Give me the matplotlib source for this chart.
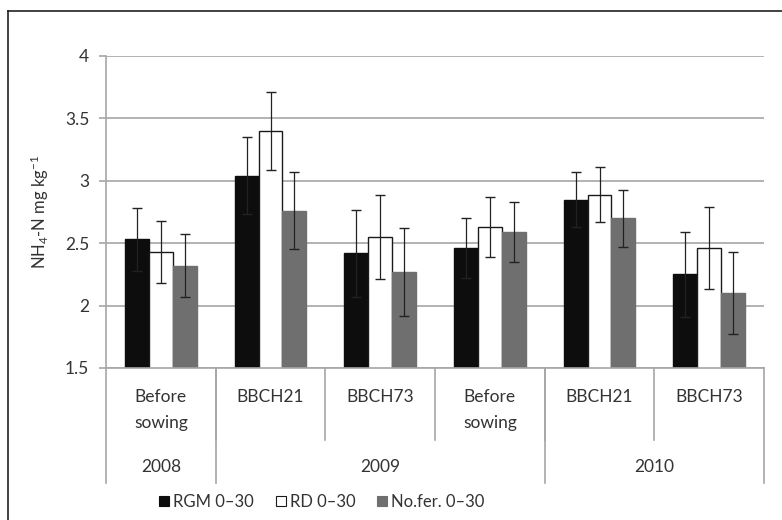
import numpy as np
import matplotlib
matplotlib.use("Agg")
import matplotlib.pyplot as plt
from matplotlib.patches import Patch
from matplotlib.lines import Line2D

plt.rcParams['font.family'] = ['Lato', 'DejaVu Sans']
plt.rcParams['mathtext.fontset'] = 'custom'
plt.rcParams['mathtext.rm'] = 'Lato'
plt.rcParams['mathtext.it'] = 'Lato'

# data
stages = ["Before\nsowing", "BBCH21", "BBCH73", "Before\nsowing", "BBCH21", "BBCH73"]
years = ["2008", "2009", "2010"]
year_span = [(0, 1), (1, 4), (4, 6)]   # category index ranges per year
series = ["RGM 0\u201330", "RD 0\u201330", "No.fer. 0\u201330"]
rgm = [2.53, 3.04, 2.42, 2.46, 2.85, 2.25]
rd = [2.43, 3.40, 2.55, 2.63, 2.89, 2.46]
nofer = [2.32, 2.76, 2.27, 2.59, 2.70, 2.10]
rgm_err = [0.25, 0.31, 0.35, 0.24, 0.22, 0.34]
rd_err = [0.25, 0.31, 0.34, 0.24, 0.22, 0.33]
nofer_err = [0.25, 0.31, 0.35, 0.24, 0.23, 0.33]

txt = '#333333'
W, H = 782, 520
fig = plt.figure(figsize=(W / 100, H / 100), dpi=100)
ax = fig.add_axes([106 / W, 1 - 368 / H, 658 / W, 312 / H])

x = np.arange(len(stages))
bw = 0.218
fills = ['#0d0d0d', 'white', '#6f6f6f']
edges = ['#0d0d0d', '#1a1a1a', '#6f6f6f']
vals = [rgm, rd, nofer]
errs = [rgm_err, rd_err, nofer_err]
for i in range(3):
    ax.bar(x + (i - 1) * bw, vals[i], bw, bottom=0, color=fills[i], edgecolor=edges[i],
           linewidth=1.0, zorder=3)
    ax.errorbar(x + (i - 1) * bw, vals[i], yerr=errs[i], fmt='none', ecolor='#222222',
                elinewidth=0.9, capsize=3.5, capthick=1.0, zorder=4)

ax.set_ylim(1.5, 4)
ax.set_xlim(-0.5, 5.5)
ax.set_yticks([1.5, 2, 2.5, 3, 3.5, 4])
ax.set_yticklabels(['1.5', '2', '2.5', '3', '3.5', '4'])
ax.yaxis.grid(True, color='#a6a6a6', linewidth=1.2, zorder=0)
ax.set_axisbelow(True)
for s in ['top', 'right', 'bottom']:
    ax.spines[s].set_visible(False)
ax.spines['left'].set_color('#a6a6a6')
ax.spines['left'].set_linewidth(1.2)
ax.tick_params(axis='y', length=5, width=1.2, color='#a6a6a6', labelsize=12.5, labelcolor=txt, pad=7)
ax.set_xticks([])
ax.set_ylabel("NH$_4$-N mg kg$^{-1}$", fontsize=12, color=txt, labelpad=10)

# multi-level category axis
ph = 312.0
def fy(px):
    return -px / ph

trans = ax.get_xaxis_transform()
ax.plot([-0.5, 5.5], [0, 0], transform=trans, color='#a6a6a6', lw=1.2, clip_on=False, zorder=5)
for b in np.arange(0.5, 5.5, 1.0):
    ax.plot([b, b], [0, fy(72)], transform=trans, color='#a6a6a6', lw=1.2, clip_on=False)
for b in [-0.5, 0.5, 3.5, 5.5]:
    ax.plot([b, b], [0, fy(115)], transform=trans, color='#a6a6a6', lw=1.2, clip_on=False)
for i, lab in enumerate(stages):
    ax.text(i, fy(21), lab, transform=trans, ha='center', va='top', fontsize=12.5,
            color=txt, linespacing=1.75)
for (a, b), yr in zip(year_span, years):
    ax.text((a + b - 1) / 2, fy(99), yr, transform=trans, ha='center', va='center',
            fontsize=12.5, color=txt)

handles = [Patch(facecolor=fills[i], edgecolor=edges[i], linewidth=0.8) for i in range(3)]
fig.legend(handles, series, loc='center', bbox_to_anchor=(322 / W, 1 - 502 / H), ncol=3,
           frameon=False, fontsize=12, handlelength=0.6, handleheight=0.6,
           handletextpad=0.25, columnspacing=1.3, labelcolor=txt)

# outer chart border (left and top visible)
fig.add_artist(Line2D([7.5 / W, 7.5 / W], [0, 1 - 10.5 / H], color='#222222', lw=1.2))
fig.add_artist(Line2D([7.5 / W, 1], [1 - 10.5 / H, 1 - 10.5 / H], color='#222222', lw=1.2))

fig.savefig("out.png", dpi=100)
plt.close()
